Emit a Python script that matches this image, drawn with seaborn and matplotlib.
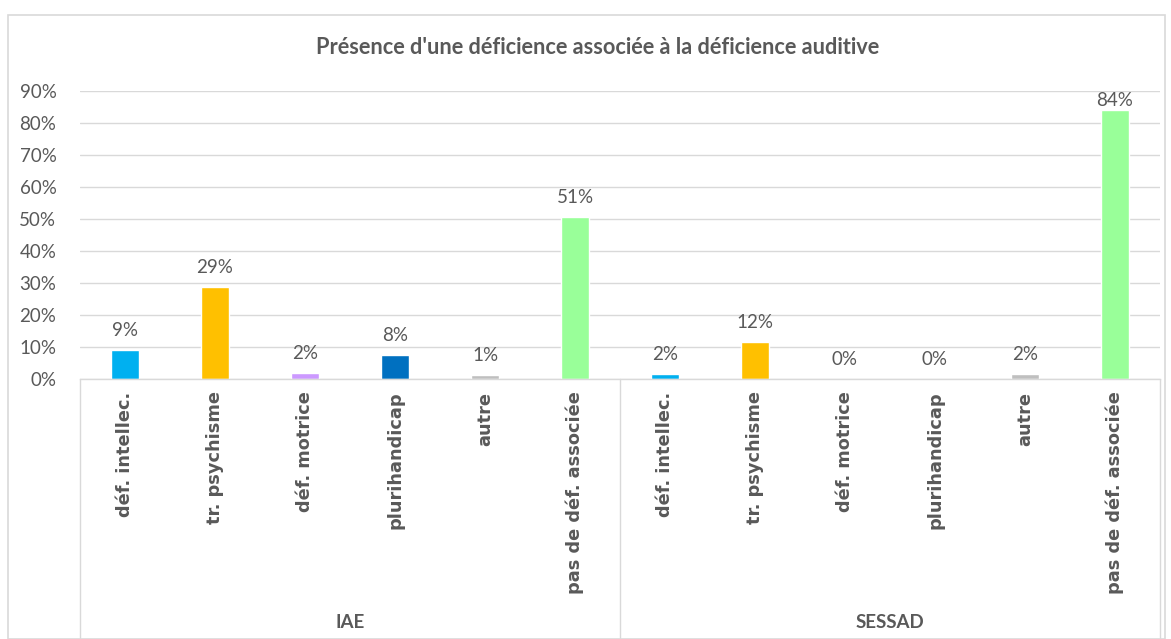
"""Présence d'une déficience associée à la déficience auditive."""

import matplotlib.pyplot as plt
import pandas as pd
import seaborn as sns
from matplotlib.lines import Line2D
from matplotlib.patches import Rectangle

groups = ['IAE', 'SESSAD']
categories = [
    'déf. intellec.', 'tr. psychisme', 'déf. motrice',
    'plurihandicap', 'autre', 'pas de déf. associée']
iae_values = [9.1, 28.7, 1.9, 7.6, 1.2, 50.6]
sessad_values = [1.6, 11.6, 0.0, 0.0, 1.6, 84.0]
bar_colors = ['#00B0F0', '#FFC000', '#CC99FF', '#0070C0', '#BFBFBF', '#99FF99']
yticks = [0, 10, 20, 30, 40, 50, 60, 70, 80, 90]

TEXT = '#595959'
GRID = '#D9D9D9'

rows = []
for group, values in zip(groups, [iae_values, sessad_values]):
    for cat, val, col in zip(categories, values, bar_colors):
        rows.append({'key': f'{group}|{cat}', 'group': group,
                     'cat': cat, 'value': val, 'color': col})
df = pd.DataFrame(rows)

sns.set_theme(style='white')
plt.rcParams['font.family'] = ['Lato', 'DejaVu Sans']

fig = plt.figure(figsize=(11.71, 6.39), dpi=100)
ax = fig.add_axes([80 / 1171, 1 - 379 / 639, 1080 / 1171, 288 / 639])

sns.barplot(data=df, x='key', y='value', hue='key',
            palette=dict(zip(df['key'], df['color'])),
            width=0.31, legend=False, ax=ax, saturation=1)

for cont, val in zip(ax.containers, df['value']):
    # labels near the top of the axes get pushed down, like Excel does
    pad = 1 if val > 80 else 8
    ax.bar_label(cont, labels=[f'{val:.0f}%'], padding=pad,
                 color=TEXT, fontsize=13.5)

ax.set_ylim(0, 90)
ax.set_xlim(-0.5, len(df) - 0.5)
ax.set_yticks(yticks)
ax.set_yticklabels([f'{t}%' for t in yticks], color=TEXT, fontsize=13.5)
ax.tick_params(axis='y', length=0, pad=17)
ax.yaxis.grid(True, color=GRID, linewidth=1)
ax.set_axisbelow(True)
ax.set_xlabel('')
ax.set_ylabel('')
for side in ['top', 'right', 'left']:
    ax.spines[side].set_visible(False)
ax.spines['bottom'].set_color(GRID)
ax.spines['bottom'].set_linewidth(1)

ax.set_xticks(range(len(df)))
ax.set_xticklabels(df['cat'], rotation=90, va='top', color=TEXT,
                   fontsize=12.8, fontweight='bold', family='DejaVu Sans')
ax.tick_params(axis='x', length=0, pad=9)

# group separators and group labels
n = len(categories)
for i in range(len(groups) + 1):
    xs = i * n - 0.5
    ax.add_line(Line2D([xs, xs], [0, -0.95], transform=ax.get_xaxis_transform(),
                       color=GRID, linewidth=1, clip_on=False))
for i, group in enumerate(groups):
    ax.text(i * n + (n - 1) / 2, -243 / 288, group, transform=ax.get_xaxis_transform(),
            ha='center', va='center', color=TEXT, fontsize=13.5, fontweight='bold')

fig.text(598 / 1171, 1 - 47 / 639,
         "Présence d'une déficience associée à la déficience auditive",
         ha='center', va='center', color=TEXT, fontsize=15.7, fontweight='bold')

fig.patches.append(Rectangle((8 / 1171, 0), 1157 / 1171, 1 - 15 / 639,
                             transform=fig.transFigure, fill=False,
                             edgecolor=GRID, linewidth=1.2))

fig.savefig('out.png', dpi=100)
